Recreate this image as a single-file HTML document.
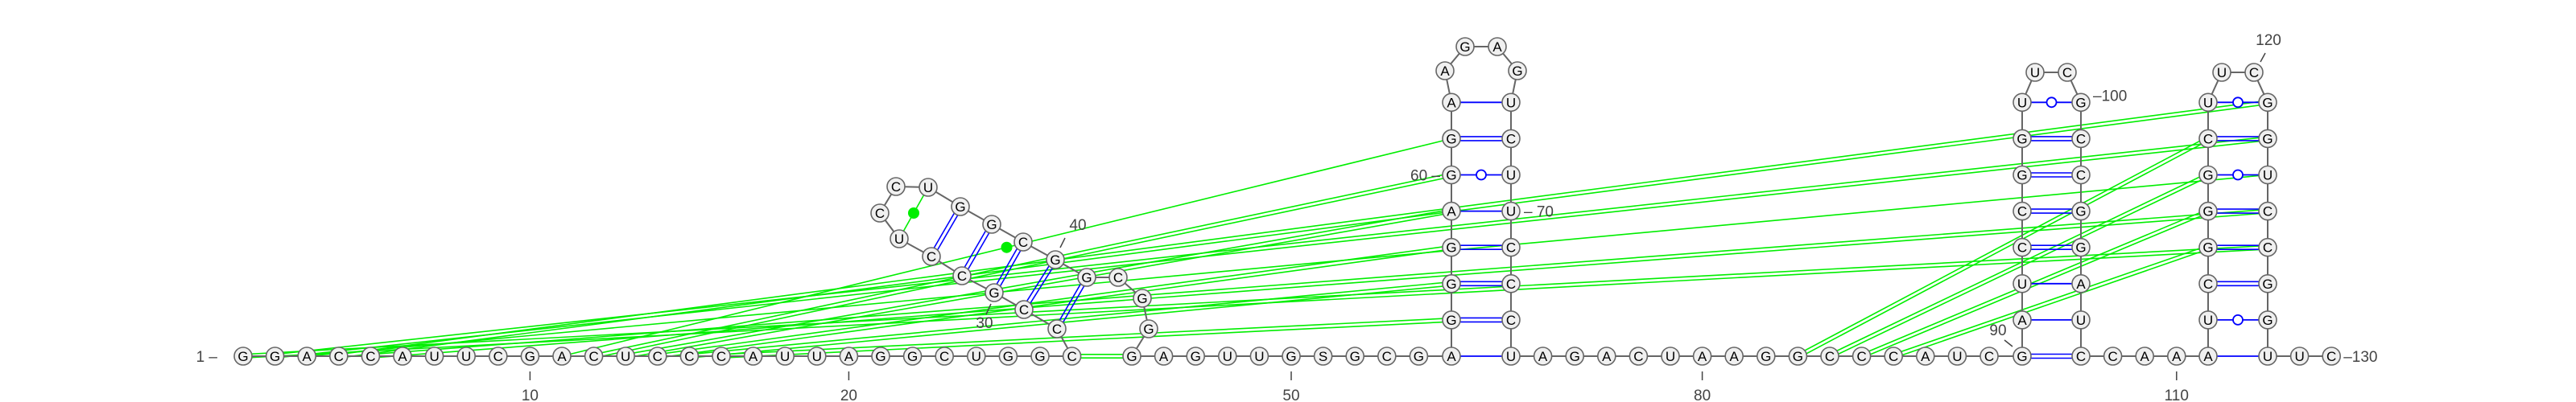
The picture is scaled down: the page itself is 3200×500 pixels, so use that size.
<!DOCTYPE html>
<html><head><meta charset="utf-8"><style>
html,body{margin:0;padding:0;background:#fff;}
svg{display:block;font-family:"Liberation Sans",sans-serif;}
</style></head><body>
<svg id="rna" width="3200" height="500" viewBox="0 0 3200 500" xmlns="http://www.w3.org/2000/svg">
<g id="green"></g>
<g id="backbone"></g>
<g id="pairs"></g>
<g id="nodes"></g>
<g id="labels" fill="#444" font-size="19"></g>
</svg>
<script>
const sequence = "GGACCAUUCG" + "ACUCCCAUUA" + "GGCUGGC" + "CCGCCUCCUGGCGGCGGG" + "AGUUGSGCG" +
 "AGGGAGGAAGAGUCUUCCCU" + "AGACUAAGGCCCAUC" + "GAUCCGGUUCGCCGGAUC" + "CAA" +
 "AUCGGGCUUCGGUCCGGU" + "UC";
// canonical pairs [i, j, type]  type: 1 single (AU), 2 double (GC), 0 wobble (GU)
const pairs = [[28,41,2],[29,40,2],[30,39,2],[31,38,2],[32,37,2],
 [55,74,1],[56,73,2],[57,72,2],[58,71,2],[59,70,1],[60,69,0],[61,68,2],[62,67,1],
 [90,107,2],[91,106,1],[92,105,1],[93,104,2],[94,103,2],[95,102,2],[96,101,2],[97,100,0],
 [111,128,1],[112,127,0],[113,126,2],[114,125,2],[115,124,2],[116,123,0],[117,122,2],[118,121,0]];
// tertiary / non-canonical interactions [i, j, lines, dot]
const tertiary = [[27,45,2,0],[33,36,1,1],[11,61,1,1],[12,60,2,0],[13,59,2,0],[14,58,2,0],[15,57,2,0],[16,56,2,0],
 [1,125,2,0],[2,122,2,0],[3,123,1,0],[4,121,2,0],[5,124,2,0],
 [83,117,2,0],[84,116,2,0],[85,115,2,0],[86,114,2,0]];
const tickPositions = [10,20,50,80,110];
const sideLabels = [[1,"1 \u2013"],[30,"30"],[40,"40"],[60,"60 \u2013"],[70,"\u2013 70"],[90,"90"],[100,"\u2013100"],[120,"120"],[130,"\u2013130"]];

const NS="http://www.w3.org/2000/svg";
const SP=39.6, BY=443, RH=45.1;
const pos={};
function base(n,x0,n0){pos[n]=[x0+(n-n0)*SP,BY];}
for(let n=1;n<=27;n++) base(n,302,1);
for(let n=45;n<=55;n++) base(n,1406,45);
for(let n=74;n<=90;n++) base(n,1877,74);
for(let n=107;n<=111;n++) base(n,2585,107);
for(let n=128;n<=130;n++) base(n,2817,128);
const hp=[[1313,409],[1272,385],[1235,364],[1195,343],[1157,319],[1117,297],[1093,265],[1113,232],[1153,233],[1193,257],[1232,279],[1271,301],[1311,323],[1350,345],[1389,345],[1419,371],[1427,409]];
hp.forEach((p,i)=>pos[28+i]=p);
function stem(i,j,xl,xr,rows){for(let k=0;k<rows;k++){pos[i+k]=[xl,BY-k*RH];pos[j-k]=[xr,BY-k*RH];}}
stem(55,74,1803,1877,8); pos[63]=[1795,88];pos[64]=[1820,58];pos[65]=[1860,58];pos[66]=[1885,88];
stem(90,107,2512,2585,8); pos[98]=[2528,90];pos[99]=[2568,90];
stem(111,128,2743,2817,8); pos[119]=[2760,90];pos[120]=[2800,90];

function mk(tag,attrs,parent){const e=document.createElementNS(NS,tag);for(const k in attrs)e.setAttribute(k,attrs[k]);parent.appendChild(e);return e;}
function dbl(a,b,col,w,parent,off){const dx=b[0]-a[0],dy=b[1]-a[1],L=Math.hypot(dx,dy),nx=-dy/L*off,ny=dx/L*off;
 mk('line',{x1:a[0]+nx,y1:a[1]+ny,x2:b[0]+nx,y2:b[1]+ny,stroke:col,'stroke-width':w},parent);
 mk('line',{x1:a[0]-nx,y1:a[1]-ny,x2:b[0]-nx,y2:b[1]-ny,stroke:col,'stroke-width':w},parent);}

const G=document.getElementById('green');
tertiary.forEach(([i,j,l,d])=>{const a=pos[i],b=pos[j];
 const g=mk('g',{},G);
 
 
 if(l===2) dbl(a,b,'#00ee00',1.6,g,2.2); else mk('line',{x1:a[0],y1:a[1],x2:b[0],y2:b[1],stroke:'#00ee00','stroke-width':1.6},g);
 if(d) mk('circle',{cx:(a[0]+b[0])/2,cy:(a[1]+b[1])/2,r:7,fill:'#00ee00'},g);
});
const B=document.getElementById('backbone');
for(let n=1;n<130;n++){const a=pos[n],b=pos[n+1];mk('line',{x1:a[0],y1:a[1],x2:b[0],y2:b[1],stroke:'#666','stroke-width':2},B);}
const P=document.getElementById('pairs');
pairs.forEach(([i,j,t])=>{const a=pos[i],b=pos[j];
 const g=mk('g',{},P);
 
 
 if(t===2) dbl(a,b,'#0000ff',1.6,g,2.5);
 else {mk('line',{x1:a[0],y1:a[1],x2:b[0],y2:b[1],stroke:'#0000ff','stroke-width':1.8},g);
  if(t===0) mk('circle',{cx:(a[0]+b[0])/2,cy:(a[1]+b[1])/2,r:6,fill:'#fff',stroke:'#0000ff','stroke-width':1.8},g);}
});
const N=document.getElementById('nodes');
for(let n=1;n<=130;n++){const p=pos[n];
 const g=mk('g',{},N);
 
 
 mk('circle',{cx:p[0],cy:p[1],r:11,fill:'#f0f0f0',stroke:'#666','stroke-width':1.6},g);
 const t=mk('text',{x:p[0],y:p[1]+6,'text-anchor':'middle','font-size':17,fill:'#000'},g);
 t.textContent=sequence[n-1];}
const Lb=document.getElementById('labels');
tickPositions.forEach(n=>{const p=pos[n];
 const g=mk('g',{},Lb);
 
 
 mk('line',{x1:p[0],y1:p[1]+19,x2:p[0],y2:p[1]+30,stroke:'#444','stroke-width':1.5},g);
 const t=mk('text',{x:p[0],y:p[1]+55,'text-anchor':'middle'},g);t.textContent=String(n);});
const lblGeom={1:[-32,7,'end'],30:[-12,44,'middle'],40:[28,-37,'middle'],60:[-14,7,'end'],70:[16,7,'start'],90:[-30,-26,'middle'],100:[15,-2,'start'],120:[18,-34,'middle'],130:[15,7,'start']};
const tickGeom={30:[[-4,14],[-10,27]],40:[[6,-15],[12,-27]],90:[[-12,-12],[-22,-20]],120:[[8,-13],[14,-24]]};
sideLabels.forEach(([n,s])=>{const p=pos[n],g0=lblGeom[n];
 const g=mk('g',{},Lb);
 
 
 if(tickGeom[n]){const tg=tickGeom[n];mk('line',{x1:p[0]+tg[0][0],y1:p[1]+tg[0][1],x2:p[0]+tg[1][0],y2:p[1]+tg[1][1],stroke:'#444','stroke-width':1.5},g);}
 const t=mk('text',{x:p[0]+g0[0],y:p[1]+g0[1],'text-anchor':g0[2]},g);t.textContent=s;});
</script>
</body></html>
